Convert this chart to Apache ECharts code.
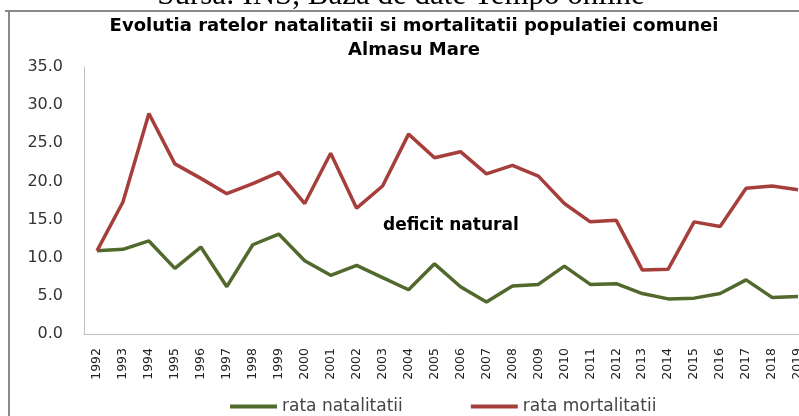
<!DOCTYPE html>
<html>
<head>
<meta charset="utf-8">
<script src="https://cdn.jsdelivr.net/npm/echarts@6/dist/echarts.min.js"></script>
<style>
html,body{margin:0;padding:0;background:#fff;}
#c{width:799px;height:416px;}
</style>
</head>
<body>
<div id="c"></div>
<script>
var years = ['1992','1993','1994','1995','1996','1997','1998','1999','2000','2001','2002','2003','2004','2005','2006','2007','2008','2009','2010','2011','2012','2013','2014','2015','2016','2017','2018','2019'];
var natalitate = [10.9,11.1,12.2,8.6,11.4,6.2,11.7,13.1,9.6,7.7,9.0,7.4,5.8,9.2,6.2,4.2,6.3,6.5,8.9,6.5,6.6,5.3,4.6,4.7,5.3,7.1,4.8,4.9];
var mortalitate = [10.9,17.3,28.9,22.3,20.4,18.4,19.7,21.2,17.1,23.7,16.5,19.4,26.2,23.1,23.9,21.0,22.1,20.7,17.1,14.7,14.9,8.4,8.5,14.7,14.1,19.1,19.4,18.9];
var yTicks = [0,5,10,15,20,25,30,35];
var seriesNames = ['rata natalitatii','rata mortalitatii'];
var titleText = 'Evolutia ratelor natalitatii si mortalitatii populatiei comunei\nAlmasu Mare';
var sourceText = 'Sursa: INS, Baza de date Tempo online';
var annotationText = 'deficit natural';

var chart = echarts.init(document.getElementById('c'), null, {renderer:'canvas'});
chart.setOption({
  animation:false,
  backgroundColor:'#ffffff',
  title:{
    text:titleText,
    left:414, top:14, padding:0, textAlign:'center',
    textStyle:{fontFamily:'DejaVu Sans',fontWeight:'bold',fontSize:18,color:'#000',lineHeight:24}
  },
  graphic:[
    {type:'text', x:401, y:-4, style:{text:sourceText, font:'31px "Liberation Serif"', fill:'#000', align:'center', verticalAlign:'middle'}},
    {type:'line', shape:{x1:5,y1:11,x2:799,y2:11}, style:{stroke:'#8a8a8a',lineWidth:2}},
    {type:'line', shape:{x1:9,y1:11,x2:9,y2:416}, style:{stroke:'#8a8a8a',lineWidth:2}},
    {type:'text', x:383, y:226, style:{text:annotationText, font:'bold 17px "DejaVu Sans"', fill:'#000', verticalAlign:'middle'}}
  ],
  legend:{
    data:[{name:seriesNames[0],icon:'rect'},{name:seriesNames[1],icon:'rect'}],
    left:225, top:393, itemWidth:47, itemHeight:4, itemGap:68,
    textStyle:{fontFamily:'DejaVu Sans',fontSize:17,color:'#444'}
  },
  grid:{left:84,width:727,top:67,height:267,containLabel:false,outerBoundsMode:'none'},
  xAxis:{
    type:'category', data:years, boundaryGap:true,
    axisLine:{lineStyle:{color:'#bfbfbf',width:1}},
    axisTick:{show:false},
    axisLabel:{rotate:90,margin:14,interval:0,fontFamily:'DejaVu Sans',fontSize:12.5,color:'#222'}
  },
  yAxis:{
    type:'value', min:0, max:35, interval:5,
    axisLine:{show:true,lineStyle:{color:'#bfbfbf',width:1}},
    axisTick:{show:false},
    splitLine:{show:false},
    axisLabel:{margin:21,fontFamily:'DejaVu Sans',fontSize:16,color:'#333',formatter:function(v){return v.toFixed(1);}}
  },
  series:[
    {name:seriesNames[0],type:'line',data:natalitate,symbol:'none',lineStyle:{color:'#52692d',width:3.5},itemStyle:{color:'#52692d'}},
    {name:seriesNames[1],type:'line',data:mortalitate,symbol:'none',lineStyle:{color:'#a63f3c',width:3.5},itemStyle:{color:'#a63f3c'}}
  ]
});
</script>
</body>
</html>
